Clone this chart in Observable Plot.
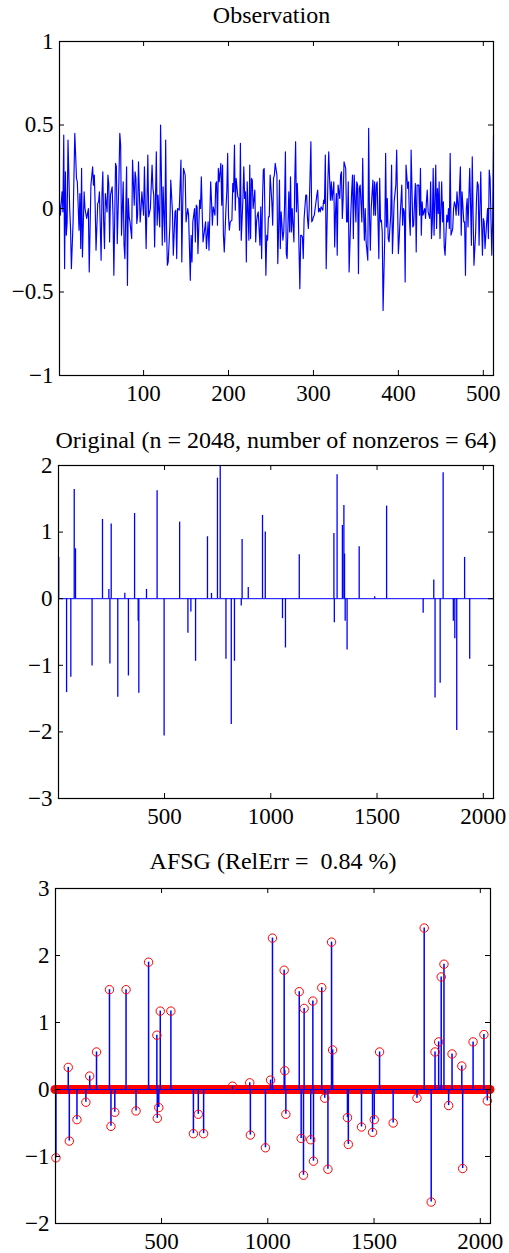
<!DOCTYPE html>
<html><head><meta charset="utf-8">
<script src="https://cdn.jsdelivr.net/npm/d3@7"></script>
<script src="https://cdn.jsdelivr.net/npm/@observablehq/plot@0.6"></script>
<style>body{margin:0;background:#fff;} #chart{width:509px;}</style>
</head><body><div id="chart"></div>
<script>
// ---------- Panel 1: Observation (sample index, value) ----------
const obsIdx = [
1,2,4,5,6,7,8,9,10,11,
13,14,15,17,19,20,21,22,24,25,
26,27,28,30,31,33,35,36,38,40,
41,42,43,44,46,47,48,50,51,52,
53,54,55,57,58,59,60,61,63,64,
65,67,68,69,71,72,73,74,76,77,
78,80,81,82,83,84,86,87,89,90,
91,92,93,94,96,97,98,100,101,103,
105,106,108,110,111,112,113,115,116,117,
119,120,121,122,123,125,126,127,128,129,
131,132,134,135,137,138,139,140,142,144,
145,146,147,149,150,152,153,155,156,157,
158,160,161,162,163,164,166,167,168,169,
170,171,173,
174,176,177,179,180,181,182,184,185,186,
187,188,189,191,192,193,194,195,197,198,
199,200,201,202,204,205,206,207,208,209,
211,212,213,214,215,217,218,219,220,221,
222,224,225,226,227,228,229,231,232,233,
234,235,237,238,239,240,241,242,244,245,
246,247,248,249,251,252,253,254,255,257,
258,259,260,261,262,264,265,266,267,268,
269,271,272,273,274,275,277,278,279,280,
281,282,284,285,286,287,288,289,291,292,
293,294,295,297,298,299,300,301,302,304,
305,306,307,308,309,311,312,313,314,315,
317,318,319,320,321,322,324,325,326,327,
328,329,331,332,333,334,335,336,338,339,
340,341,342,
344,345,346,347,348,350,351,352,353,354,
355,357,358,359,360,361,362,364,365,366,
367,368,370,371,372,373,374,375,377,378,
379,380,381,382,384,385,386,387,388,389,
391,392,393,394,395,397,398,399,400,401,
402,404,405,406,407,408,409,411,412,413,
414,415,417,418,419,420,421,422,424,425,
426,427,428,429,431,432,433,434,435,437,
438,439,440,441,442,444,445,446,447,448,
449,451,452,453,454,455,457,458,459,460,
461,462,464,465,466,467,468,469,471,472,
473,474,475,477,478,479,480,481,482,484,
485,486,487,488,489,491,492,493,494,495,
497,498,499,500,501,502,504,505,506,507,
508,510,511,512];
const obsVal = [
0.04,-0.04,0.10,-0.02,0.44,-0.36,0.22,-0.16,-0.08,0.41,
0.00,-0.12,-0.36,-0.08,0.45,0.32,0.18,0.16,-0.13,0.09,
-0.24,0.24,-0.29,0.10,0.00,-0.06,0.00,-0.38,0.14,0.25,
0.14,0.20,0.02,-0.25,0.03,0.04,0.10,-0.31,0.08,0.22,
-0.08,-0.24,0.09,-0.02,0.20,0.15,-0.20,0.08,0.13,-0.04,
-0.40,0.27,0.25,-0.21,0.18,0.45,0.38,-0.16,0.16,-0.22,
-0.30,0.25,-0.46,0.06,-0.05,-0.08,-0.18,0.29,0.02,0.22,
0.18,-0.09,-0.04,0.28,-0.08,0.00,0.10,-0.04,0.25,-0.24,
0.32,-0.05,0.00,0.26,0.12,0.08,-0.23,0.34,-0.10,0.08,
-0.11,0.50,0.20,-0.22,0.13,-0.20,0.41,-0.10,-0.34,-0.32,
-0.10,0.17,-0.02,-0.28,-0.02,-0.01,-0.30,0.00,-0.01,0.29,
-0.32,0.00,0.24,0.20,-0.08,0.00,-0.04,-0.43,-0.16,-0.32,
-0.08,0.00,-0.20,0.02,0.01,-0.27,0.05,0.00,0.19,-0.02,
-0.20,-0.16,-0.08,
-0.24,-0.08,-0.25,0.16,0.04,-0.10,0.01,-0.04,0.15,0.16,
-0.10,0.24,0.16,0.27,0.02,0.26,-0.16,-0.26,0.00,0.10,
0.33,-0.05,-0.13,-0.08,-0.07,0.15,0.10,0.38,-0.01,0.18,
0.07,0.06,-0.13,0.39,-0.19,0.06,0.25,0.06,0.10,-0.32,
0.16,-0.19,0.26,-0.18,0.18,0.17,0.00,0.11,-0.20,-0.08,
-0.04,-0.02,-0.22,0.01,-0.30,0.05,0.23,0.24,-0.40,-0.16,
-0.19,-0.05,-0.05,0.20,0.04,-0.10,0.18,0.20,0.27,0.20,
-0.33,-0.12,0.17,-0.24,-0.02,-0.19,-0.14,0.02,0.34,-0.27,
-0.30,0.10,-0.14,0.19,-0.14,0.00,-0.20,0.16,0.40,-0.02,
0.15,0.00,-0.48,-0.16,-0.16,-0.17,-0.30,-0.06,0.08,0.08,
-0.06,-0.12,0.00,0.40,-0.08,-0.07,-0.05,-0.04,0.00,0.08,
0.11,-0.02,0.00,-0.02,0.01,-0.01,0.05,0.03,0.32,-0.36,
0.16,0.34,0.18,0.05,0.16,0.05,0.16,-0.23,-0.02,0.09,
-0.28,0.14,0.06,0.20,0.22,-0.06,0.06,0.28,0.24,-0.08,
-0.08,0.16,-0.38,
-0.03,0.10,0.20,-0.18,0.20,-0.08,0.16,0.14,-0.39,0.12,
0.14,-0.08,0.30,-0.01,-0.19,0.00,-0.20,-0.31,0.48,-0.04,
-0.25,0.00,0.17,-0.04,0.16,-0.04,0.14,0.16,-0.30,0.18,
-0.08,-0.07,-0.14,-0.61,-0.16,0.33,-0.11,0.06,-0.18,-0.20,
-0.04,0.26,-0.27,-0.12,0.04,0.14,0.35,0.04,-0.27,-0.18,
-0.06,0.14,-0.10,0.00,-0.02,-0.44,0.26,0.12,0.16,-0.06,
-0.16,0.35,-0.11,-0.10,0.04,0.15,-0.26,0.14,0.14,-0.04,
0.24,-0.16,0.04,-0.04,0.00,-0.06,0.04,0.11,-0.02,-0.06,
0.16,-0.18,-0.08,0.24,-0.16,0.26,-0.12,0.12,-0.03,0.16,
-0.18,0.16,-0.08,0.04,-0.23,-0.28,-0.04,-0.08,0.00,-0.12,
0.33,-0.16,-0.12,0.00,0.04,0.02,-0.04,0.10,-0.04,0.12,
0.25,-0.16,0.10,-0.08,-0.08,-0.40,0.00,0.06,-0.11,0.24,
0.02,-0.22,0.31,-0.04,-0.34,-0.14,0.06,0.16,0.14,-0.22,
0.22,-0.08,-0.28,-0.06,-0.08,-0.24,-0.08,0.00,-0.18,0.23,
0.18,-0.28,-0.07,0.44];

// ---------- Panel 2: Original sparse signal (nonzero positions, values) ----------
const origIdx = [2,39,59,75,81,159,208,238,243,249,280,313,330,359,376,379,415,465,498,571,
610,624,646,702,721,749,762,789,814,829,861,865,894,961,974,1055,1069,1134,1297,1299,
1312,1337,1344,1347,1350,1359,1416,1489,1545,1717,1767,1773,1797,1811,1859,1866,1875,1912,1936];
const origVal = [0.62,-1.41,-1.18,1.64,0.75,-1.01,1.19,0.14,-0.98,1.12,-1.48,0.08,-1.16,1.28,-0.34,-1.42,0.14,1.62,-2.06,1.15,
-0.52,-0.2,-0.94,0.93,0.08,1.81,2.0,-0.91,-1.89,-0.94,-0.11,0.89,0.17,1.25,1.0,-0.3,-0.74,0.66,0.98,-0.36,
1.86,1.1,1.4,0.67,-0.34,-0.77,0.78,0.03,1.39,-0.22,0.28,-1.49,-1.27,1.89,-0.34,-0.6,-1.98,0.62,-0.91];

// ---------- Panel 3: AFSG recovery (nonzero positions, values) ----------
const afsgIdx = [3,61,66,102,144,162,194,255,262,280,333,380,439,478,480,487,494,544,650,673,
698,834,915,918,989,1013,1022,1077,1080,1085,1148,1157,1168,1171,1202,1212,1215,1254,1268,1283,
1300,1305,1375,1379,1441,1493,1501,1526,1590,1702,1736,1769,1787,1804,1816,1829,1851,1867,1913,1917,
1966,2017,2033];
const afsgVal = [-1.02,0.33,-0.77,-0.45,-0.19,0.2,0.56,1.49,-0.55,-0.34,1.49,-0.32,1.9,0.81,-0.43,-0.27,1.17,1.17,-0.66,-0.37,
-0.66,0.05,0.1,-0.68,-0.87,0.14,2.26,1.78,0.28,-0.37,1.46,-0.73,-1.28,1.21,-0.75,1.32,-1.07,1.52,-0.13,-1.19,
2.2,0.59,-0.42,-0.82,-0.56,-0.64,-0.45,0.56,-0.5,-0.13,2.41,-1.68,0.56,0.71,1.68,1.87,-0.24,0.53,0.35,-1.18,
0.71,0.82,-0.17];

// ---------- Axes / text ----------
const obsDomain = [1, 512];
const sigDomain = [1, 2048];
const obsXTicks = [100, 200, 300, 400, 500];
const obsYTicks = [-1, -0.5, 0, 0.5, 1];
const sigXTicks = [500, 1000, 1500, 2000];
const origYTicks = [-3, -2, -1, 0, 1, 2];
const afsgYTicks = [-2, -1, 0, 1, 2, 3];
const titles = ["Observation", "Original (n = 2048, number of nonzeros = 64)", "AFSG (RelErr =\u00a0 0.84 %)"];

const FONT = "'Liberation Serif','Times New Roman',Times,serif";
const BLUE = "#0000ff", RED = "#ff0000";
const fmt = d => (d < 0 ? "\u2212" + Math.abs(d) : String(d));
const zip = (a, b) => a.map((x, i) => ({x, y: b[i]}));

function panel({height, mt, mb, ml, mr, xDomain, yDomain, xTicks, yTicks, title, titleDy, titleDx = 0, marks}) {
  const fw = 509 - ml - mr, fh = height - mt - mb, tl = 5;
  return Plot.plot({
    width: 509, height, marginTop: mt, marginBottom: mb, marginLeft: ml, marginRight: mr,
    style: {fontFamily: FONT, fontSize: "23px", color: "black", background: "white", overflow: "visible"},
    x: {domain: xDomain, label: null},
    y: {domain: yDomain, label: null},
    marks: [
      ...marks,
      Plot.tickX(xTicks, {x: d => d, insetTop: fh - tl, stroke: "black"}),
      Plot.tickX(xTicks, {x: d => d, insetBottom: fh - tl, stroke: "black"}),
      Plot.tickY(yTicks, {y: d => d, insetRight: fw - tl, stroke: "black"}),
      Plot.tickY(yTicks, {y: d => d, insetLeft: fw - tl, stroke: "black"}),
      Plot.axisX(xTicks, {tickSize: 0, tickPadding: 9, tickFormat: fmt, fontSize: 23, label: null}),
      Plot.axisY(yTicks, {tickSize: 0, tickPadding: 6, tickFormat: fmt, fontSize: 23, label: null}),
      Plot.frame({stroke: "black", strokeWidth: 1.2}),
      Plot.text([title], {text: d => d, frameAnchor: "top", lineAnchor: "middle", dy: titleDy, dx: titleDx, fontSize: 24, fill: "black"})
    ]
  });
}

const chart = document.getElementById("chart");

chart.append(panel({
  height: 420, mt: 41, mb: 45, ml: 59, mr: 16,
  xDomain: obsDomain, yDomain: [-1, 1], xTicks: obsXTicks, yTicks: obsYTicks,
  title: titles[0], titleDy: -26, titleDx: -5,
  marks: [Plot.line(zip(obsIdx, obsVal), {x: "x", y: "y", stroke: BLUE, strokeWidth: 1.15})]
}));

chart.append(panel({
  height: 420, mt: 45, mb: 42, ml: 58, mr: 16,
  xDomain: sigDomain, yDomain: [-3, 2], xTicks: sigXTicks, yTicks: origYTicks,
  title: titles[1], titleDy: -25,
  marks: [
    Plot.ruleY([0], {x1: sigDomain[0], x2: sigDomain[1], stroke: BLUE, strokeWidth: 1}),
    Plot.ruleX(zip(origIdx, origVal), {x: "x", y1: 0, y2: "y", stroke: BLUE, strokeWidth: 1.3})
  ]
}));

chart.append(panel({
  height: 413, mt: 48, mb: 30, ml: 55, mr: 19,
  xDomain: sigDomain, yDomain: [-2, 3], xTicks: sigXTicks, yTicks: afsgYTicks,
  title: titles[2], titleDy: -27,
  marks: [
    Plot.ruleY([0], {x1: sigDomain[0], x2: sigDomain[1], stroke: RED, strokeWidth: 9, strokeLinecap: "round"}),
    Plot.ruleY([0], {x1: sigDomain[0], x2: sigDomain[1], stroke: BLUE, strokeWidth: 1}),
    Plot.ruleX(zip(afsgIdx, afsgVal), {x: "x", y1: 0, y2: "y", stroke: BLUE, strokeWidth: 1.5}),
    Plot.dot(zip(afsgIdx, afsgVal), {x: "x", y: "y", r: 4.2, stroke: RED, fill: "none", strokeWidth: 1})
  ]
}));
</script></body></html>
